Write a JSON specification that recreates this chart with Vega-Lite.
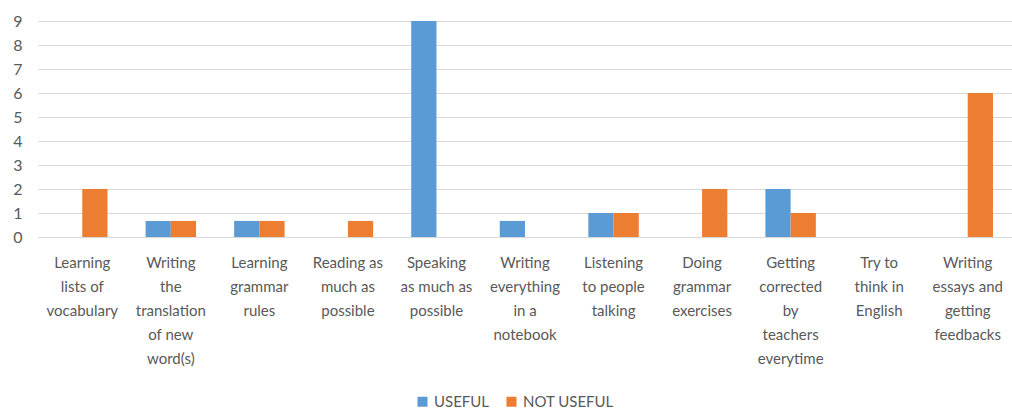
{
  "$schema": "https://vega.github.io/schema/vega-lite/v6.json",
  "width": 974,
  "height": 216,
  "padding": {"left": 12, "top": 13, "right": 2, "bottom": 2},
  "background": "white",
  "config": {
    "font": "Lato",
    "view": {"stroke": null}
  },
  "data": {
    "values": [
      {"category": "Learning\nlists of\nvocabulary", "series": "USEFUL", "value": 0},
      {"category": "Learning\nlists of\nvocabulary", "series": "NOT USEFUL", "value": 2},
      {"category": "Writing\nthe\ntranslation\nof new\nword(s)", "series": "USEFUL", "value": 0.67},
      {"category": "Writing\nthe\ntranslation\nof new\nword(s)", "series": "NOT USEFUL", "value": 0.67},
      {"category": "Learning\ngrammar\nrules", "series": "USEFUL", "value": 0.67},
      {"category": "Learning\ngrammar\nrules", "series": "NOT USEFUL", "value": 0.67},
      {"category": "Reading as\nmuch as\npossible", "series": "USEFUL", "value": 0},
      {"category": "Reading as\nmuch as\npossible", "series": "NOT USEFUL", "value": 0.67},
      {"category": "Speaking\nas much as\npossible", "series": "USEFUL", "value": 9},
      {"category": "Speaking\nas much as\npossible", "series": "NOT USEFUL", "value": 0},
      {"category": "Writing\neverything\nin a\nnotebook", "series": "USEFUL", "value": 0.67},
      {"category": "Writing\neverything\nin a\nnotebook", "series": "NOT USEFUL", "value": 0},
      {"category": "Listening\nto people\ntalking", "series": "USEFUL", "value": 1},
      {"category": "Listening\nto people\ntalking", "series": "NOT USEFUL", "value": 1},
      {"category": "Doing\ngrammar\nexercises", "series": "USEFUL", "value": 0},
      {"category": "Doing\ngrammar\nexercises", "series": "NOT USEFUL", "value": 2},
      {"category": "Getting\ncorrected\nby\nteachers\neverytime", "series": "USEFUL", "value": 2},
      {"category": "Getting\ncorrected\nby\nteachers\neverytime", "series": "NOT USEFUL", "value": 1},
      {"category": "Try to\nthink in\nEnglish", "series": "USEFUL", "value": 0},
      {"category": "Try to\nthink in\nEnglish", "series": "NOT USEFUL", "value": 0},
      {"category": "Writing\nessays and\ngetting\nfeedbacks", "series": "USEFUL", "value": 0},
      {"category": "Writing\nessays and\ngetting\nfeedbacks", "series": "NOT USEFUL", "value": 6}
    ]
  },
  "mark": {"type": "bar"},
  "encoding": {
    "x": {
      "field": "category",
      "type": "nominal",
      "sort": null,
      "title": null,
      "scale": {"paddingInner": 0.43, "paddingOuter": 0.215},
      "axis": {
        "labelAngle": 0,
        "labelExpr": "split(datum.value, '\\n')",
        "labelFontSize": 15,
        "labelLineHeight": 24,
        "labelColor": "#595959",
        "labelPadding": 18,
        "labelBaseline": "top",
        "labelLimit": 200,
        "ticks": false,
        "domainColor": "#d9d9d9",
        "domainWidth": 1
      }
    },
    "xOffset": {
      "field": "series",
      "type": "nominal",
      "sort": ["USEFUL", "NOT USEFUL"],
      "scale": {"paddingInner": 0, "paddingOuter": 0}
    },
    "y": {
      "field": "value",
      "type": "quantitative",
      "title": null,
      "scale": {"domain": [0, 9], "nice": false},
      "axis": {
        "values": [0, 1, 2, 3, 4, 5, 6, 7, 8, 9],
        "domain": false,
        "ticks": false,
        "grid": true,
        "gridColor": "#d9d9d9",
        "gridWidth": 1,
        "labelFontSize": 16,
        "labelColor": "#595959",
        "labelPadding": 16
      }
    },
    "color": {
      "field": "series",
      "type": "nominal",
      "sort": ["USEFUL", "NOT USEFUL"],
      "scale": {"domain": ["USEFUL", "NOT USEFUL"], "range": ["#5B9BD5", "#ED7D31"]},
      "legend": {
        "title": null,
        "orient": "none",
        "legendX": 377,
        "legendY": 373,
        "direction": "horizontal",
        "symbolType": "square",
        "symbolSize": 100,
        "symbolStrokeWidth": 0,
        "labelFontSize": 15,
        "labelColor": "#595959",
        "columnPadding": 14
      }
    }
  }
}
